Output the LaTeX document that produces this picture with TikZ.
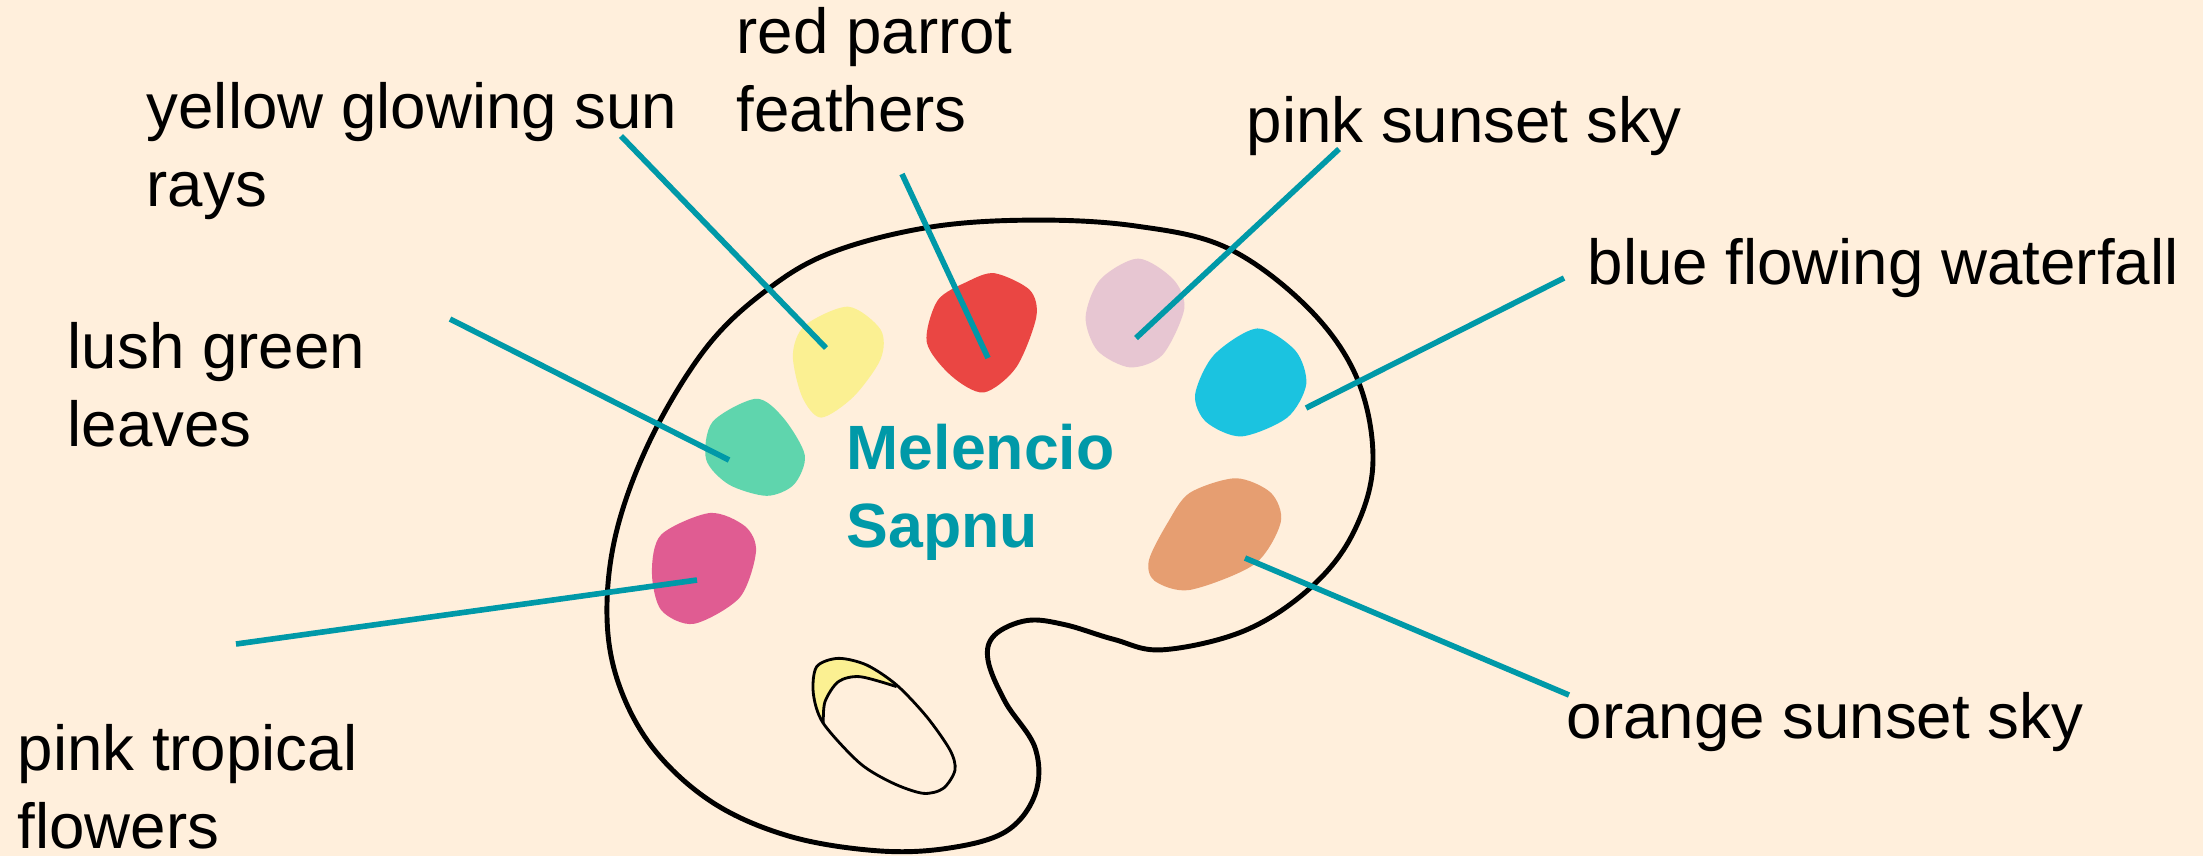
\documentclass[tikz,border=0pt]{standalone}
\usepackage{fontspec}
\setmainfont{Liberation Sans}
\definecolor{paper}{HTML}{FFEFDC}
\definecolor{teal}{HTML}{0099A8}
\definecolor{sunyellow}{HTML}{FBF092}
\definecolor{parrotred}{HTML}{EA4643}
\definecolor{skypink}{HTML}{E7C6D2}
\definecolor{fallblue}{HTML}{1BC3E0}
\definecolor{leafgreen}{HTML}{5FD5AD}
\definecolor{flowerpink}{HTML}{E05C92}
\definecolor{skyorange}{HTML}{E69E71}
\begin{document}
\begin{tikzpicture}[
  x=0.01cm, y=-0.01cm,
  lab/.style    = {anchor=north west, inner sep=0pt, align=left,
                   font=\fontsize{18.1}{22.2}\selectfont},
  title/.style  = {lab, text=teal, font=\fontsize{17.8}{22.2}\selectfont\bfseries},
  leader/.style = {draw=teal, line width=1.6pt},
  outline/.style= {draw=black, line width=1.4pt},
  hole/.style   = {draw=black, line width=0.8pt},
  palette/.style= {shift={(550,200)}, xscale=0.5421, yscale=0.4184},
  finger/.style = {shift={(760,620)}, scale=0.3333}
]
\useasboundingbox (0,0) rectangle (2203,856);
\fill[paper] (0,0) rectangle (2203,856);

% palette
\begin{scope}[palette]
\draw[outline] plot[smooth cycle, tension=0.6] coordinates {
  (890,48) (1080,62) (1250,115) (1400,260) (1490,430) (1518,630) (1480,800)
  (1400,930) (1280,1030) (1130,1075) (1040,1050) (950,1015) (880,1005)
  (820,1040) (808,1100) (840,1200) (895,1310) (895,1420) (840,1510) (730,1550)
  (600,1555) (440,1520) (300,1440) (190,1310) (125,1150) (105,980) (125,780)
  (190,560) (290,350) (400,215) (520,125) (700,65)};
% paint
\fill[sunyellow] plot[smooth cycle] coordinates {
  (550,255) (610,310) (610,380) (560,470) (500,520) (465,470) (448,370) (470,300)};
\fill[parrotred] plot[smooth cycle] coordinates {
  (820,175) (885,215) (897,280) (860,400) (800,460) (740,420) (695,340) (715,240) (770,195)};
\fill[skypink] plot[smooth cycle] coordinates {
  (1085,140) (1150,190) (1170,260) (1130,370) (1070,400) (1010,360) (988,280) (1015,190)};
\fill[fallblue] plot[smooth cycle] coordinates {
  (1305,307) (1375,360) (1395,440) (1360,520) (1275,565) (1210,530) (1190,465) (1225,370)};
\fill[leafgreen] plot[smooth cycle] coordinates {
  (380,475) (430,520) (470,610) (450,680) (400,707) (330,680) (288,620) (300,530)};
\fill[flowerpink] plot[smooth cycle] coordinates {
  (295,748) (360,780) (380,840) (350,950) (265,1013) (205,980) (188,890) (205,800)};
\fill[skyorange] plot[smooth cycle] coordinates {
  (1265,665) (1330,700) (1348,770) (1300,870) (1180,932) (1115,910) (1105,860) (1140,770) (1180,700)};
\end{scope}

% thumb hole
\begin{scope}[finger]
\fill[sunyellow] plot[smooth] coordinates {(190,310) (160,220) (170,140) (235,115) (320,135) (410,195)}
  -- plot[smooth] coordinates {(410,195) (300,170) (235,185) (195,245) (190,310)} -- cycle;
\draw[hole] plot[smooth cycle] coordinates {
  (190,310) (160,220) (170,140) (235,115) (320,135) (410,195) (500,290) (570,390)
  (585,450) (550,505) (490,520) (400,490) (300,430)};
\draw[hole] plot[smooth] coordinates {(190,310) (195,245) (235,185) (300,170) (410,200)};
\end{scope}

% labels
\node[lab] (sunlabel) at (146,82) {yellow glowing sun\\rays};
\node[lab] (parrotlabel) at (736,7) {red parrot\\feathers};
\node[lab] (skylabel) at (1246,96) {pink sunset sky};
\node[lab] (falllabel) at (1587,238) {blue flowing waterfall};
\node[lab] (leaflabel) at (67,322) {lush green\\leaves};
\node[lab] (flowerlabel) at (17,724) {pink tropical\\flowers};
\node[lab] (orangelabel) at (1566,692) {orange sunset sky};
\node[title] (name) at (846,423) {Melencio\\Sapnu};

% leaders
\coordinate (sunfrom) at (621,136);    \coordinate (sundab) at (826,348);
\coordinate (parrotfrom) at (902,174); \coordinate (parrotdab) at (988,358);
\coordinate (skyfrom) at (1339,149);   \coordinate (skydab) at (1136,338);
\coordinate (fallfrom) at (1564,278);  \coordinate (falldab) at (1306,408);
\coordinate (leaffrom) at (450,319);   \coordinate (leafdab) at (729,460);
\coordinate (flowerfrom) at (236,644); \coordinate (flowerdab) at (697,580);
\coordinate (orangefrom) at (1569,695);\coordinate (orangedab) at (1245,558);
\draw[leader] (sunfrom) -- (sundab);
\draw[leader] (parrotfrom) -- (parrotdab);
\draw[leader] (skyfrom) -- (skydab);
\draw[leader] (fallfrom) -- (falldab);
\draw[leader] (leaffrom) -- (leafdab);
\draw[leader] (flowerfrom) -- (flowerdab);
\draw[leader] (orangefrom) -- (orangedab);
\end{tikzpicture}
\end{document}
